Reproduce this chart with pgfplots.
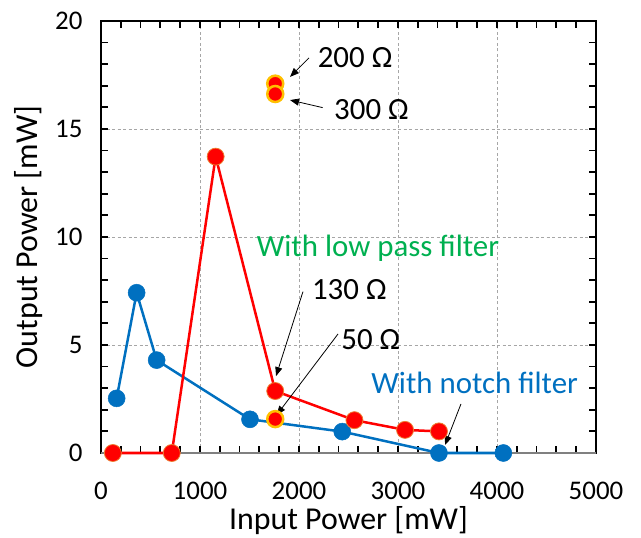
\documentclass[border=0pt]{standalone}
\usepackage{pgfplots}
\pgfplotsset{compat=1.18}
\usepackage{fontspec}
\setmainfont{Carlito}
\usetikzlibrary{arrows.meta}

\definecolor{lpred}{HTML}{FF0000}
\definecolor{lpedge}{HTML}{ED7D31}
\definecolor{gold}{HTML}{FFC000}
\definecolor{nfblue}{HTML}{0070C0}
\definecolor{lpgreen}{HTML}{00B050}
\definecolor{gridgray}{HTML}{A6A6A6}

\begin{document}
\begin{tikzpicture}
\useasboundingbox (0,0) rectangle (641bp,538bp);
\begin{axis}[
    at={(101bp,85bp)}, anchor=south west,
    scale only axis, width=495bp, height=432bp,
    xmin=0, xmax=5000, ymin=0, ymax=20,
    xtick={0,1000,...,5000}, ytick={0,5,...,20},
    minor x tick num=4, minor y tick num=4,
    scaled x ticks=false,
    tick align=inside,
    major tick length=7bp, minor tick length=7bp,
    tick style={black, line width=1.8bp},
    grid=major,
    grid style={gridgray, dash pattern=on 3bp off 2.5bp, line width=0.8bp},
    axis line style={black, line width=2.5bp},
    /pgf/number format/assume math mode=true,
    /pgf/number format/1000 sep={},
    ticklabel style={font=\fontsize{27}{27}\selectfont},
    xticklabel style={yshift=-26bp},
    yticklabel style={xshift=-15bp},
    label style={font=\fontsize{32}{32}\selectfont},
    xlabel={Input Power [mW]},
    ylabel={Output Power [mW]},
    xlabel style={at={(axis description cs:0.5,-0.176)}, anchor=base},
    ylabel style={at={(axis description cs:-0.128,0.5)}, anchor=base},
    clip=false,
]

% gray bottom axis line
\draw[gray, line width=2.5bp] (rel axis cs:0,0) -- (rel axis cs:1,0);

% with notch filter
\addplot[nfblue, line width=2.5bp, mark=*, mark size=8.5bp,
    mark options={fill=nfblue, draw=nfblue, line width=0.5bp}] coordinates {
    (158,2.53) (360,7.42) (562,4.30) (1505,1.56) (2437,0.99) (3414,0) (4064,0)
};

% with low pass filter
\addplot[lpred, line width=2.5bp, mark=*, mark size=8.5bp,
    mark options={fill=lpred, draw=lpedge, line width=0.8bp}] coordinates {
    (120,0) (715,0) (1158,13.72) (1760,2.87) (2560,1.52) (3071,1.07) (3414,1.00)
};

% single load points
\addplot[only marks, mark=*, mark size=8bp,
    mark options={fill=lpred, draw=gold, line width=2.5bp}] coordinates {
    (1760,17.10) (1760,16.62) (1760,1.57)
};

\begin{scope}[font=\fontsize{31}{31}\selectfont]
\node[anchor=base] at (axis cs:2566,17.84) {200 Ω};
\node[anchor=base] at (axis cs:2732,15.42) {300 Ω};
\node[anchor=base, text=lpgreen] at (axis cs:2798,9.09) {With low pass filter};
\node[anchor=base] at (axis cs:2508,7.12) {130 Ω};
\node[anchor=base] at (axis cs:2725,4.81) {50 Ω};
\node[anchor=base, text=nfblue] at (axis cs:3775,2.76) {With notch filter};
\end{scope}

\begin{scope}[line width=0.8bp, -{Triangle[length=9bp,width=7bp]}]
\draw (axis cs:2101,18.29) -- (axis cs:1909,17.41);
\draw (axis cs:2239,15.99) -- (axis cs:1909,16.34);
\draw (axis cs:2040,7.47) -- (axis cs:1768,3.56);
\draw (axis cs:2394,5.51) -- (axis cs:1775,1.76);
\draw (axis cs:3636,2.27) -- (axis cs:3475,0.37);
\end{scope}
\end{axis}
\end{tikzpicture}
\end{document}
